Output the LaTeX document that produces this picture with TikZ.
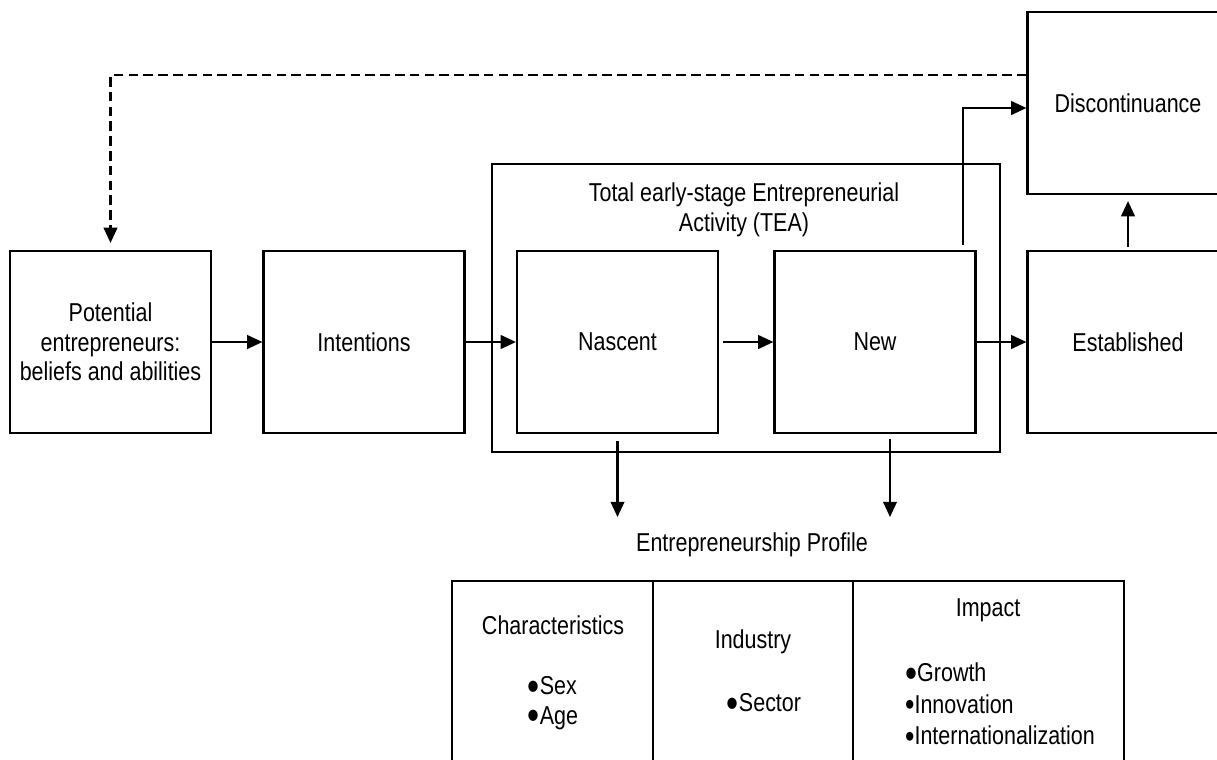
\documentclass[tikz,border=0pt]{standalone}
\usepackage{fontspec}
\setmainfont{Liberation Sans}[FakeStretch=0.83]
\usepackage{tikz}
\usetikzlibrary{calc}
\usetikzlibrary{arrows.meta}
\tikzset{
    box/.style={draw, line width=1.5pt, inner sep=0pt, align=center, minimum width=5.025cm, minimum height=4.55cm},
    arr/.style={-{Triangle[length=0.38cm, width=0.34cm]}, line width=1.5pt},
    dashline/.style={dash pattern=on 0.24cm off 0.13cm}
}
\newcommand{\bigdot}{\smash{\raisebox{-0.22em}{\scalebox{1.6}{\textbullet}}}}
\newcommand{\smalldot}{\smash{\raisebox{-0.09em}{\scalebox{1.25}{\textbullet}}}}

\begin{document}
\begin{tikzpicture}[x=0.025cm, y=-0.025cm, font=\fontsize{18.4}{21}\selectfont]
\useasboundingbox (0,0) rectangle (1217,759);
\clip (0,0) rectangle (1217,759);
\node[draw, line width=1.5pt, minimum width=12.7cm, minimum height=7.2cm] (tea) at (746,308) {};
\node[align=center] (teat) at (744,210) {Total early-stage Entrepreneurial\\Activity (TEA)};
\foreach \x/\p/\labeltext in {110.5/pot/{Potential\\entrepreneurs:\\beliefs and abilities}, 364/int/{Intentions}, 617.5/nas/{Nascent}, 875/new/{New}, 1128/est/{Established}}{
    \node[box] (\p) at (\x,342) {\labeltext};
}
\node[box] (dis) at (1128,103) {Discontinuance};
\coordinate (lvl) at (0,517);
\coordinate (newdn) at (890,433);
\draw[arr] (pot) -- (int);
\draw[arr] (int) -- (nas);
\draw[arr, shorten <=0.1cm] (nas) -- (new);
\draw[arr] (new) -- (est);
\draw[arr, shorten <=0.075cm, shorten >=0.15cm] (est.north) -- (dis.south);
\draw[arr, shorten <=0.125cm] ($(new.north east)+(-14,0)$) |- ($(dis.west)+(0,5)$);
\draw[arr, dashline, shorten >=0.175cm] ($(dis.west)+(0,-28)$) -| (pot.north);
\draw[arr, shorten <=0.175cm] (nas.south) -- (nas.south |- lvl);
\draw[arr, shorten <=0.15cm] (newdn) -- (newdn |- lvl);
\node (prof) at (752,545) {Entrepreneurship Profile};
\draw[line width=1.5pt] (452,800) |- (1124,581) -- (1124,800);
\draw[line width=1.5pt] (653,581) -- (653,800);
\draw[line width=1.5pt] (853,581) -- (853,800);
\node (chrt) at (553,625) {Characteristics};
\node[align=left] (chrl) at (553,703) {\bigdot Sex\\\bigdot Age};
\node (indt) at (753,642) {Industry};
\node (indl) at (764,703) {\bigdot Sector};
\node (impt) at (988,610) {Impact};
\node[align=left] (impl) at (1000,704) {\bigdot Growth\\[1.5pt]\smalldot Innovation\\[1.5pt]\smalldot Internationalization};
\end{tikzpicture}
\end{document}
